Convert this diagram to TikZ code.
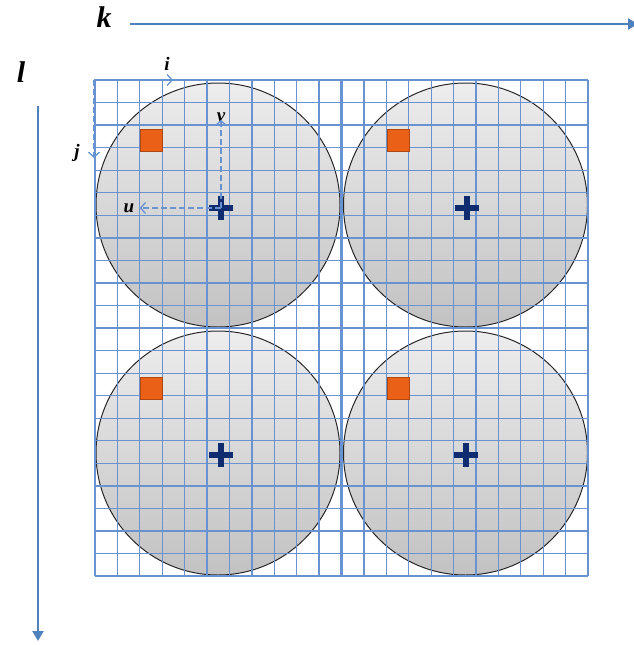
\documentclass[tikz,border=0pt]{standalone}
\usepackage{fontspec}
\setmainfont{Liberation Serif}
\usetikzlibrary{arrows.meta,positioning,calc}
\definecolor{gridblue}{RGB}{104,146,208}
\definecolor{axisblue}{RGB}{79,129,189}
\definecolor{crossnavy}{RGB}{16,44,112}
\definecolor{pxorange}{RGB}{234,96,22}
\tikzset{
  every picture/.style={line width=0.7pt},
  disc/.style={circle, draw=black!85, line width=1pt, top color=black!7, bottom color=black!24, minimum size=244pt, inner sep=0pt},
  gridln/.style={draw=gridblue, line width=1.3pt},
  tileln/.style={draw=gridblue, line width=2.4pt},
  pxsquare/.style={draw=pxorange!75!black, fill=pxorange, minimum size=22pt, inner sep=0pt, line width=0.8pt},
  centremark/.style={draw=crossnavy, line width=6.5pt},
  dasharr/.style={draw=gridblue, dash pattern=on 6pt off 3pt, line width=1.4pt, -{Straight Barb[length=5pt,width=11pt,line width=1.3pt]}},
  axisarr/.style={draw=axisblue, line width=2.4pt, -{Triangle[length=10pt,width=11pt]}},
  smalllbl/.style={font=\fontsize{19}{19}\selectfont\bfseries\itshape, inner sep=1pt},
  biglbl/.style={font=\fontsize{30}{30}\selectfont\bfseries\itshape, inner sep=1pt},
}
\newcommand{\cellw}{22.41}
\newcommand{\cellh}{22.55}

\begin{document}
\begin{tikzpicture}[x=1pt,y=-1pt]
\useasboundingbox (0,0) rectangle (634,645);
% discs under the grid
\node[disc] (d11) at (218,205) {}; \node[disc] (d12) at (465.5,205) {};
\node[disc] (d21) at (218,453) {}; \node[disc] (d22) at (465.5,453) {};
\foreach \c in {0,...,22} \draw[gridln] ({95+\c*\cellw},80) -- ({95+\c*\cellw},576);
\foreach \r in {0,...,22} \draw[gridln] (95,{80+\r*\cellh}) -- (588,{80+\r*\cellh});
\foreach \t in {0,11,22} {\draw[tileln] ({95+\t*\cellw},80) -- ({95+\t*\cellw},576); \draw[tileln] (95,{80+\t*\cellh}) -- (588,{80+\t*\cellh});}
\node[pxsquare] (s11) at (151,140) {}; \node[pxsquare] (s12) at (398.5,140) {};
\node[pxsquare] (s21) at (151,388) {}; \node[pxsquare] (s22) at (398.5,388) {};
\coordinate (p11) at (221,208); \coordinate (p12) at (467,208); \coordinate (p21) at (221,455); \coordinate (p22) at (466,455);
\foreach \p in {p11,p12,p21,p22} \draw[centremark] ($(\p)+(-12,0)$) -- ($(\p)+(12,0)$) ($(\p)+(0,-12)$) -- ($(\p)+(0,12)$);
% local axes
\coordinate (org) at (94,80); \coordinate (iend) at (173,80); \coordinate (jend) at (94,158);
\draw[dasharr] (org) -- (iend); \draw[dasharr] (org) -- (jend);
\node[smalllbl] (i) at (167,64) {i}; \node[smalllbl] (j) at (77,153) {j};
\node[smalllbl] (u) at (129,208) {u}; \node[smalllbl] (v) at (221,117) {v};
\draw[dasharr] (p11) -- ([xshift=4pt]u.east); \draw[dasharr] (p11) -- ([yshift=3pt]v.south);
% image axes
\coordinate (kstart) at (130,24); \coordinate (kend) at (638,24); \coordinate (lstart) at (38,106); \coordinate (lend) at (38,641);
\draw[axisarr] (kstart) -- (kend); \draw[axisarr] (lstart) -- (lend);
\node[biglbl] (k) at (104,17) {k}; \node[biglbl] (l) at (21,72) {l};
\end{tikzpicture}
\end{document}
